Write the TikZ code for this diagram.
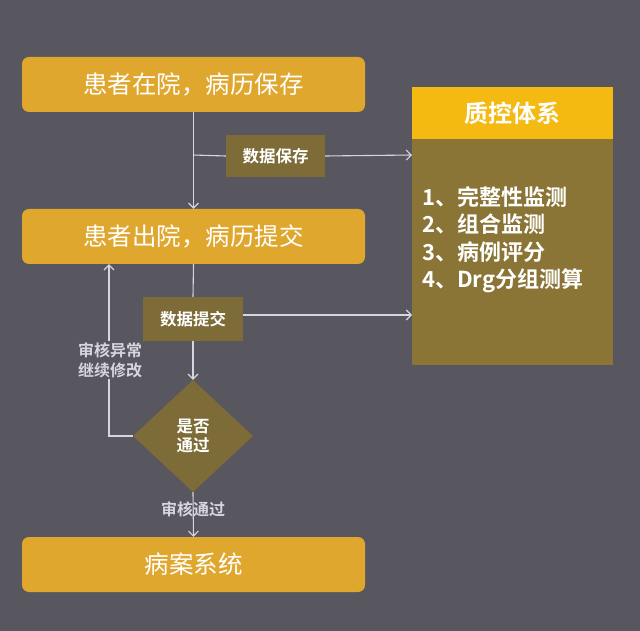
\documentclass[tikz,border=0pt]{standalone}
\usepackage{fontspec}
\setmainfont{Noto Sans CJK SC}
\newfontfamily\cjkb{Noto Sans CJK SC Bold}
\usetikzlibrary{arrows.meta,shapes.geometric}
\definecolor{bg}{HTML}{58565F}
\definecolor{gold}{HTML}{E0A72E}
\definecolor{hdr}{HTML}{F4BA12}
\definecolor{olive}{HTML}{8A7536}
\definecolor{olived}{HTML}{7E6C38}
\definecolor{ln}{HTML}{D6D6DE}
\tikzset{
  bigbox/.style={fill=gold, rounded corners=7pt, minimum width=343pt, minimum height=55pt, text=white, font=\fontsize{24.5}{28}\selectfont, inner sep=0pt},
  tagbox/.style={fill=olived, text=white, font=\cjkb\fontsize{16.5}{19}\selectfont, inner sep=0pt},
  conn/.style={draw=ln, line width=1.1pt, -{Straight Barb[length=5pt,width=10pt]}},
  plain/.style={draw=ln, line width=1.1pt},
  lbl/.style={text=ln, font=\cjkb\fontsize{16}{20}\selectfont, align=center, inner sep=1pt}
}
\begin{document}
\begin{tikzpicture}[x=1pt,y=-1pt]
\fill[bg] (0,0) rectangle (640,631);
\useasboundingbox (0,0) rectangle (640,631);
% main boxes
\node[bigbox] (b1) at (193.5,84.5) {患者在院，病历保存};
\node[bigbox] (b2) at (193.5,236.5) {患者出院，病历提交};
\node[bigbox] (b3) at (193.5,564.5) {病案系统};
% quality system
\fill[olive] (412,139) rectangle (613,365);
\node[fill=hdr, minimum width=201pt, minimum height=52pt, inner sep=0pt, text=white, font=\cjkb\fontsize{24}{28}\selectfont] (qh) at (512.5,113) {质控体系};
\node[anchor=west, text=white, font=\cjkb\fontsize{22}{27.5}\selectfont, align=left, inner sep=0pt] (ql) at (422,239.5) {1、完整性监测\\2、组合监测\\3、病例评分\\4、Drg分组测算};
% tag boxes
\node[tagbox, minimum width=99pt, minimum height=42pt] (save) at (275.5,156) {数据保存};
\node[tagbox, minimum width=100pt, minimum height=44pt] (sub) at (193,319) {数据提交};
% diamond
\node[diamond, fill=olived, minimum width=120pt, minimum height=112pt, inner sep=0pt, text=white, font=\cjkb\fontsize{16.5}{19}\selectfont, align=center] (dec) at (193,436) {是否\\通过};
% connectors
\coordinate (j1) at (193,155);
\coordinate (qa1) at (412,155);
\coordinate (qa2) at (412,315);
\coordinate (lp) at (109,436);
\draw[conn] (b1.south) -- (b2.north);
\draw[plain] (j1) -- (save.west);
\draw[conn] (save.east) -- (qa1);
\draw[plain] (b2.south) -- (sub.north);
\draw[conn] (sub.east |- qa2) -- (qa2);
\draw[conn] (sub.south) -- (dec.north);
\draw[conn] (dec.west) -- (lp) -- (lp |- b2.south);
\draw[conn] (dec.south) -- (b3.north);
% labels
\node[lbl, fill=bg] (l1) at (110,360) {审核异常\\继续修改};
\node[lbl] (l2) at (193,509) {审核通过};
\end{tikzpicture}
\end{document}
